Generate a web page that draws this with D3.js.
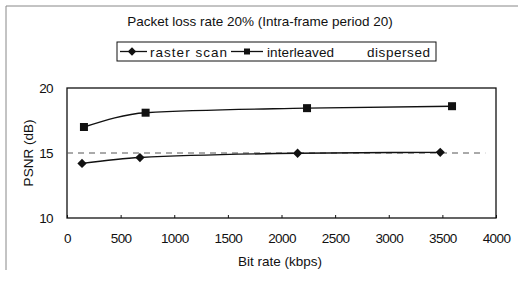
<!DOCTYPE html>
<html>
<head>
<meta charset="UTF-8">
<script src="https://d3js.org/d3.v7.min.js"></script>
<style>
  body { margin: 0; background: #fff; }
  text { font-family: "Liberation Sans", Arial, sans-serif; fill: #111; }
</style>
</head>
<body>
<div id="chart"></div>
<script>
// Daten
const rasterRate = [140, 680, 2150, 3480];
const rasterPsnr = [14.2, 14.65, 14.98, 15.05];
const interRate = [158, 733, 2238, 3590];
const interPsnr = [17.0, 18.1, 18.45, 18.6];
const dispRate = [0, 3900];
const dispPsnr = [15.0, 15.0];
const xTicks = [0, 500, 1000, 1500, 2000, 2500, 3000, 3500, 4000];
const yTicks = [10, 15, 20];

const width = 518, height = 291;
const plot = { left: 67, right: 496, top: 88, bottom: 218 };
const fs = 13.5;

const svg = d3.select('#chart').append('svg')
    .attr('width', width).attr('height', height);

// Rahmen (nur links/oben sichtbar)
svg.append('path').attr('d', 'M6,270 L6,6 L518,6')
    .attr('fill', 'none').attr('stroke', '#888').attr('stroke-width', 1);

const x = d3.scaleLinear().domain([0, 4000]).range([plot.left, plot.right]);
const y = d3.scaleLinear().domain([10, 20]).range([plot.bottom, plot.top]);

// Plotbox
svg.append('rect')
    .attr('x', plot.left).attr('y', plot.top)
    .attr('width', plot.right - plot.left).attr('height', plot.bottom - plot.top)
    .attr('fill', 'none').attr('stroke', '#111').attr('stroke-width', 1.3);

// Achsen
const xAxis = svg.append('g').attr('transform', `translate(0,${plot.bottom})`)
    .call(d3.axisBottom(x).tickValues(xTicks).tickFormat(d3.format('d')).tickSize(3).tickPadding(12));
const yAxis = svg.append('g').attr('transform', `translate(${plot.left},0)`)
    .call(d3.axisLeft(y).tickValues(yTicks).tickSize(0).tickPadding(14));
[xAxis, yAxis].forEach(g => {
    g.select('.domain').remove();
    g.selectAll('text').attr('font-size', fs).style('font-family', '"Liberation Sans", Arial, sans-serif')
        .attr('fill', '#111').attr('letter-spacing', -0.6);
    g.selectAll('line').attr('stroke', '#111');
});
xAxis.selectAll('line').attr('transform', 'translate(0,-3)');

// Titel und Beschriftungen
svg.append('text').attr('x', 260).attr('y', 26).attr('text-anchor', 'middle')
    .attr('font-size', fs).text('Packet loss rate 20% (Intra-frame period 20)');
svg.append('text').attr('x', 280).attr('y', 266).attr('text-anchor', 'middle')
    .attr('font-size', fs).text('Bit rate (kbps)');
svg.append('text').attr('transform', 'translate(33,153) rotate(-90)')
    .attr('text-anchor', 'middle').attr('font-size', fs).text('PSNR (dB)');

const line = d3.line().x(d => x(d[0])).y(d => y(d[1])).curve(d3.curveMonotoneX);
const zip = (a, b) => a.map((v, i) => [v, b[i]]);

// dispersed: gestrichelte Linie
svg.append('path').datum(zip(dispRate, dispPsnr)).attr('d', line)
    .attr('fill', 'none').attr('stroke', '#555').attr('stroke-width', 1)
    .attr('stroke-dasharray', '6,5');

// raster scan
const raster = zip(rasterRate, rasterPsnr);
svg.append('path').datum(raster).attr('d', line)
    .attr('fill', 'none').attr('stroke', '#111').attr('stroke-width', 1.4);
svg.selectAll('.dia').data(raster).join('path').attr('class', 'dia')
    .attr('transform', d => `translate(${x(d[0])},${y(d[1])})`)
    .attr('d', d3.symbol(d3.symbolDiamond2, 55)).attr('fill', '#111');

// interleaved
const inter = zip(interRate, interPsnr);
svg.append('path').datum(inter).attr('d', line)
    .attr('fill', 'none').attr('stroke', '#111').attr('stroke-width', 1.4);
svg.selectAll('.sq').data(inter).join('rect').attr('class', 'sq')
    .attr('x', d => x(d[0]) - 4).attr('y', d => y(d[1]) - 4)
    .attr('width', 8).attr('height', 8).attr('fill', '#111');

// Legende
const lg = svg.append('g');
lg.append('rect').attr('x', 117).attr('y', 42).attr('width', 319).attr('height', 19)
    .attr('fill', 'none').attr('stroke', '#111').attr('stroke-width', 1);
lg.append('line').attr('x1', 120).attr('x2', 147).attr('y1', 51.5).attr('y2', 51.5)
    .attr('stroke', '#111').attr('stroke-width', 1.3);
lg.append('path').attr('transform', 'translate(132,51.5)')
    .attr('d', d3.symbol(d3.symbolDiamond2, 45)).attr('fill', '#111');
lg.append('text').attr('x', 150).attr('y', 56.5).attr('font-size', fs)
    .attr('textLength', 77).text('raster scan');
lg.append('line').attr('x1', 231).attr('x2', 263).attr('y1', 51.5).attr('y2', 51.5)
    .attr('stroke', '#111').attr('stroke-width', 1.3);
lg.append('rect').attr('x', 244).attr('y', 48.5).attr('width', 6).attr('height', 6).attr('fill', '#111');
lg.append('text').attr('x', 267).attr('y', 56.5).attr('font-size', fs)
    .attr('textLength', 67).text('interleaved');
lg.append('text').attr('x', 367).attr('y', 56.5).attr('font-size', fs)
    .attr('textLength', 63).text('dispersed');
</script>
</body>
</html>
